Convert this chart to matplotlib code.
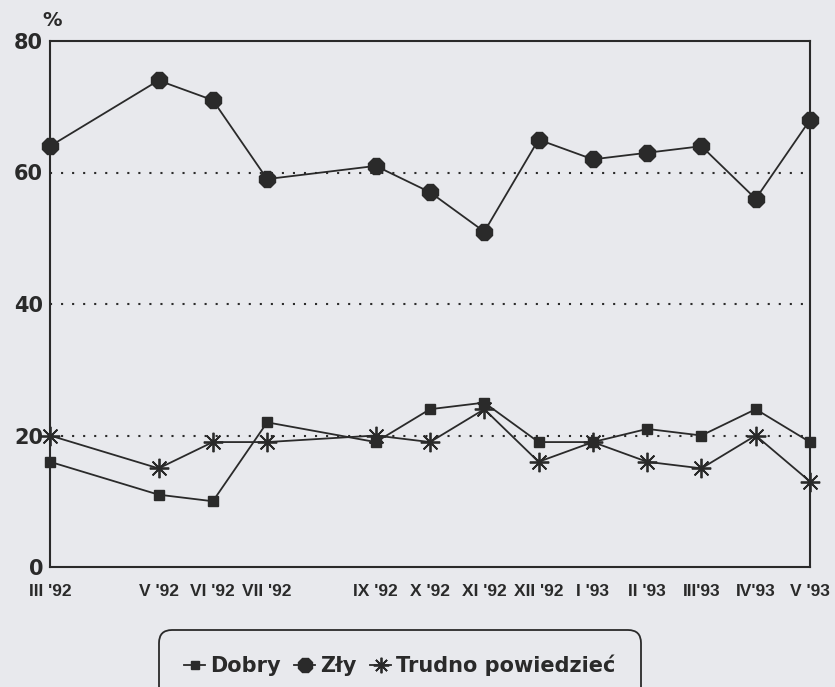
import matplotlib
matplotlib.use("Agg")
from matplotlib import pyplot as plt

# month index from III '92 (IV '92 and VIII '92 missing in survey)
months = [0, 2, 3, 4, 6, 7, 8, 9, 10, 11, 12, 13, 14]
month_labels = ["III '92", "V '92", "VI '92", "VII '92", "IX '92", "X '92", "XI '92",
                "XII '92", "I '93", "II '93", "III'93", "IV'93", "V '93"]

dobry = [16, 11, 10, 22, 19, 24, 25, 19, 19, 21, 20, 24, 19]
zly = [64, 74, 71, 59, 61, 57, 51, 65, 62, 63, 64, 56, 68]
trudno = [20, 15, 19, 19, 20, 19, 24, 16, 19, 16, 15, 20, 13]

y_ticks = [0, 20, 40, 60, 80]

bg = '#e8e9ed'
ink = '#2a2a2a'
plt.rcParams['font.family'] = ['Liberation Sans', 'DejaVu Sans']
plt.rcParams['font.weight'] = 'bold'

fig = plt.figure(figsize=(8.35, 6.87), dpi=100, facecolor=bg)
ax = fig.add_axes([50 / 835, 1 - 567 / 687, 760 / 835, 526 / 687])
ax.set_facecolor(bg)

for yv in [20, 40, 60]:
    ax.axhline(yv, color=ink, lw=1.5, linestyle=(0, (1, 4.3)), zorder=1)

ax.plot(months, dobry, color=ink, lw=1.3, marker='s', markersize=7,
        markerfacecolor=ink, markeredgecolor=ink, label='Dobry', zorder=3, clip_on=False)
ax.plot(months, zly, color=ink, lw=1.3, marker='8', markersize=13,
        markerfacecolor=ink, markeredgecolor=ink, label='Zły', zorder=3, clip_on=False)
ax.plot(months, trudno, color=ink, lw=1.3, marker=(8, 2, 0), markersize=14,
        markeredgewidth=1.3, markeredgecolor=ink, label='Trudno powiedzieć', zorder=3,
        clip_on=False)

ax.set_xlim(0, 14)
ax.set_ylim(0, 80)
for s in ax.spines.values():
    s.set_color(ink)
    s.set_linewidth(1.5)

ax.set_yticks(y_ticks)
ax.set_yticklabels([str(v) for v in y_ticks], fontsize=15, fontweight='bold', color=ink,
                   family='DejaVu Sans')
ax.tick_params(axis='y', length=0, pad=5)
ax.set_xticks(months)
ax.set_xticklabels(month_labels, fontsize=12.5, fontweight='bold', color=ink)
ax.tick_params(axis='x', length=0, pad=12)

fig.text(52 / 835, 1 - 21 / 687, '%', fontsize=14, fontweight='bold', color=ink,
         ha='center', va='center', family='DejaVu Sans')

leg = fig.legend(loc='upper center', bbox_to_anchor=(400 / 835, 1 - 630 / 687), ncol=3,
                 frameon=True, fancybox=True, handlelength=1.0, borderaxespad=0,
                 handletextpad=0.25, columnspacing=0.65, borderpad=1.2, markerscale=0.8,
                 prop={'weight': 'bold', 'size': 15, 'family': 'DejaVu Sans'})
frame = leg.get_frame()
frame.set_facecolor(bg)
frame.set_edgecolor(ink)
frame.set_linewidth(1.3)
frame.set_alpha(1)
frame.set_boxstyle('round,pad=0,rounding_size=0.6')
for t in leg.get_texts():
    t.set_color(ink)

fig.savefig('out.png', dpi=100, facecolor=bg)
